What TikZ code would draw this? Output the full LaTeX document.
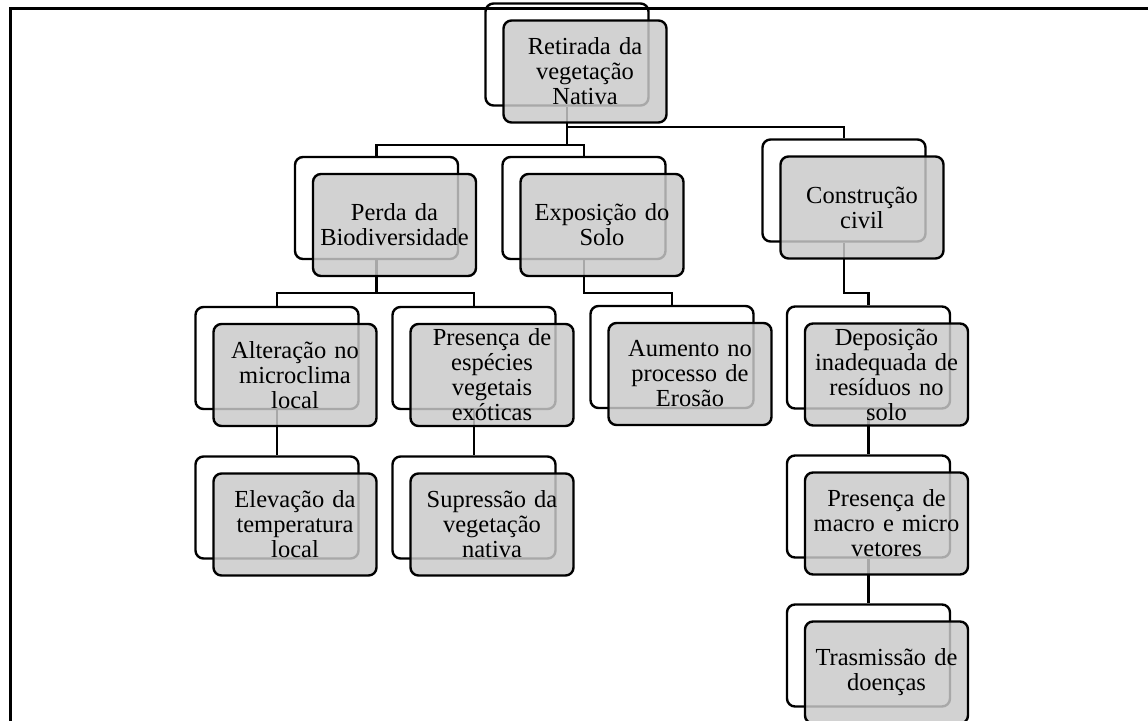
\documentclass[tikz,border=0pt]{standalone}
\usepackage{fontspec}
\setmainfont{Liberation Serif}

\tikzset{
    fundo/.style={draw, line width=2.4pt, rounded corners=8pt, minimum width=163pt, minimum height=102pt},
    caixa/.style={fundo, fill=black!21, fill opacity=0.84, text opacity=1, text width=157pt, align=center, inner sep=2pt, font=\fontsize{24.5}{25}\selectfont},
    liga/.style={line width=2.4pt}
}

\begin{document}
\begin{tikzpicture}[x=1pt, y=-1pt]
    % 1. MARC I ÀREA
    \useasboundingbox (0,0) rectangle (1148,720);
    \draw[line width=3pt] (10,722) -- (10,8) -- (1150,8);

    % 2. CAIXES DE FONS (contorn)
    \foreach \nom/\x/\y in {
        raiz/567/54.5, constr/844/190.5, perda/376.5/208, expo/584/208,
        alter/277/358, pres/474/358, aum/672/357, depos/868.5/357.5,
        elev/277/507.5, supr/474/507.5, macro/868.5/506.5, trasm/868.5/655.5
    } {
        \node[fundo] (\nom0) at (\x,\y) {};
    }

    % 3. CONNEXIONS
    \draw[liga] (raiz0.south) -- ++(0,20) coordinate (r1) -| (constr0.north);
    \draw[liga] (r1) -- ++(0,18) coordinate (r2);
    \draw[liga] (perda0.north) |- (r2) -| (expo0.north);
    \draw[liga] (perda0.south) -- ++(0,33) coordinate (p1);
    \draw[liga] (alter0.north) |- (p1) -| (pres0.north);
    \draw[liga] (expo0.south) -- ++(0,33) -| (aum0.north);
    \draw[liga] (constr0.south) -- ++(0,50) -| (depos0.north);
    \draw[liga] (alter0.south) -- (elev0.north);
    \draw[liga] (pres0.south) -- (supr0.north);
    \draw[liga] (depos0.south) -- (macro0.north);
    \draw[liga] (macro0.south) -- (trasm0.north);

    % 4. CAIXES DE DAVANT (text)
    \foreach \nom/\t in {
        raiz/{Retirada da\\vegetação\\Nativa},
        constr/{Construção\\civil},
        perda/{Perda da\\Biodiversidade},
        expo/{Exposição do\\Solo},
        alter/{Alteração no\\microclima\\local},
        pres/{Presença de\\espécies\\vegetais\\exóticas},
        aum/{Aumento no\\processo de\\Erosão},
        depos/{Deposição\\inadequada de\\resíduos no\\solo},
        elev/{Elevação da\\temperatura\\local},
        supr/{Supressão da\\vegetação\\nativa},
        macro/{Presença de\\macro e micro\\vetores},
        trasm/{Trasmissão de\\doenças}
    } {
        \node[caixa] (\nom) at ([shift={(18,17)}]\nom0.center) {\t};
    }
\end{tikzpicture}
\end{document}
